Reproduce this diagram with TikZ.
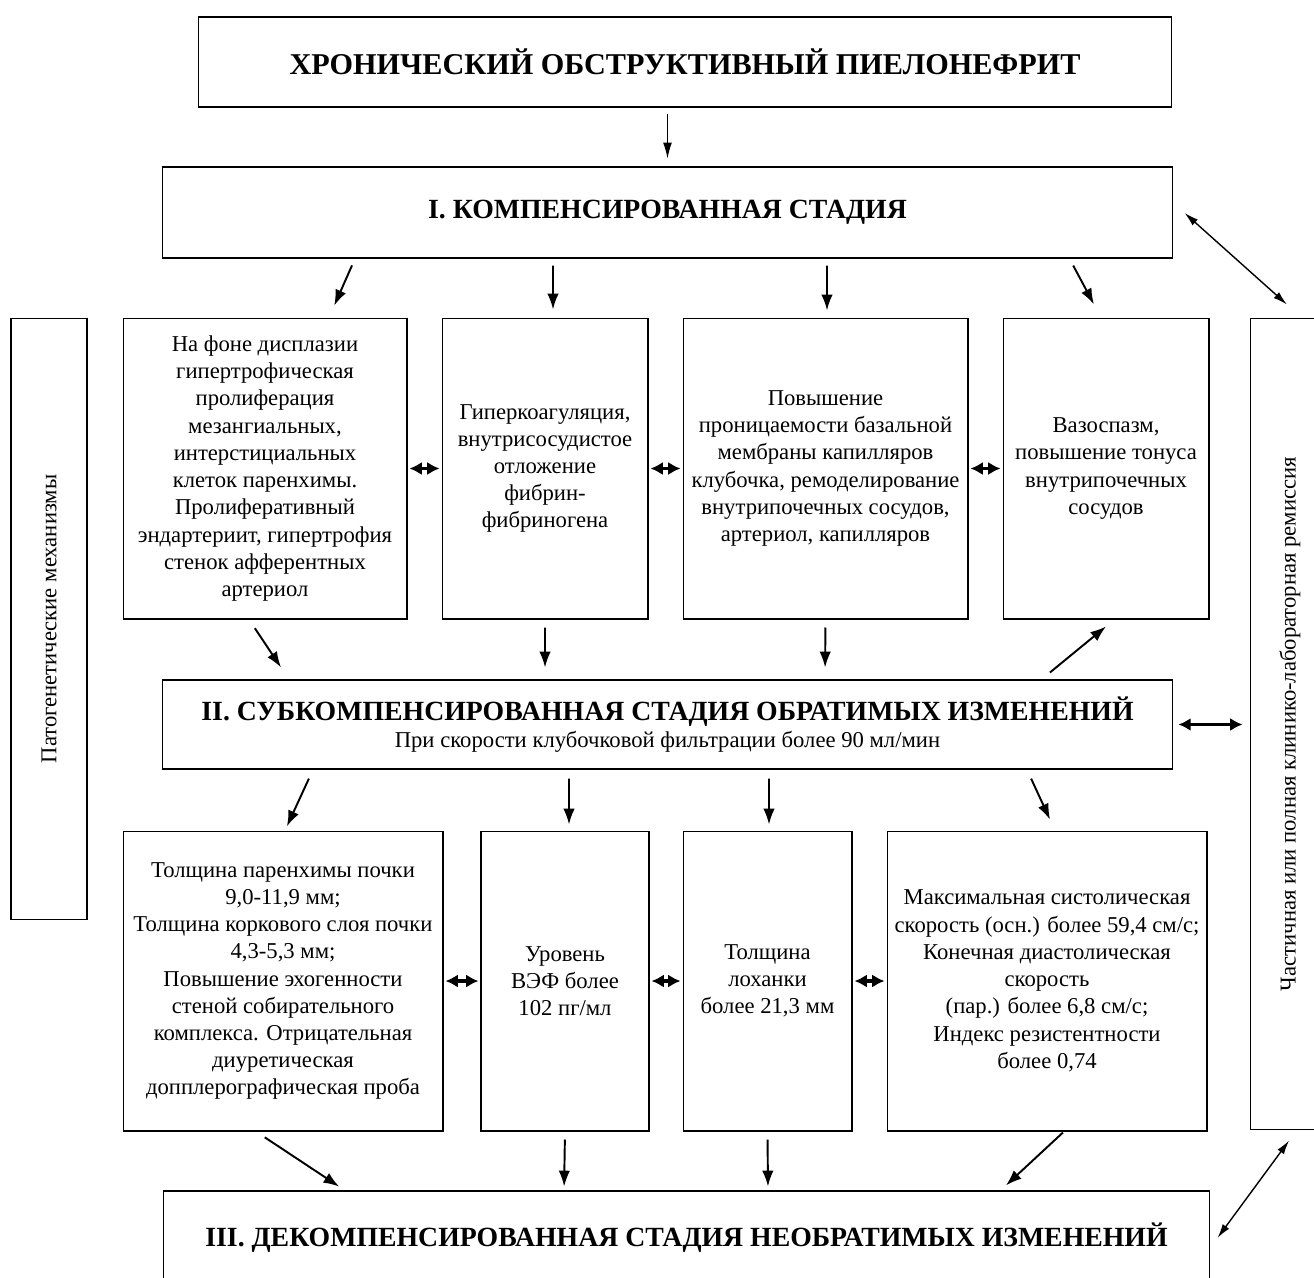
\documentclass[tikz,border=0pt]{standalone}
\usepackage{fontspec}
\setmainfont{Liberation Serif}
\usetikzlibrary{arrows.meta}
\newcommand{\boxfont}{\fontsize{12.9}{15.5}\selectfont}
\newcommand{\headfont}{\fontsize{15.8}{17}\selectfont\bfseries}
\newcommand{\titlefont}{\fontsize{17.2}{19}\selectfont\bfseries}

\begin{document}
\begin{tikzpicture}[x=0.02cm, y=-0.02cm,
    box/.style={draw, line width=0.6pt, align=center, inner sep=0pt, font=\boxfont},
    arr/.style={-{Latex[length=9pt,width=6.5pt]}, line width=1.1pt},
    thinarr/.style={-{Latex[length=9pt,width=5pt]}, line width=0.6pt},
    dbl/.style={{Latex[length=7pt,width=7.5pt]}-{Latex[length=7pt,width=7.5pt]}, line width=1.8pt},
    link/.style={{Latex[length=8pt,width=4.5pt]}-{Latex[length=8pt,width=4.5pt]}, line width=0.8pt}]

      \useasboundingbox (0,0) rectangle (1314,1277) ;

      \node [box, minimum width=19.48cm, minimum height=1.8cm, font=\titlefont] (top) at (685,62)
        {ХРОНИЧЕСКИЙ ОБСТРУКТИВНЫЙ ПИЕЛОНЕФРИТ} ;
      \node [box, minimum width=20.22cm, minimum height=1.82cm, font=\headfont] (st1) at (667.5,212.5)
        {I. КОМПЕНСИРОВАННАЯ СТАДИЯ} ;

      \node [box, minimum width=1.52cm, minimum height=12.04cm] (pat) at (49,619)
        {\rotatebox{90}{Патогенетические механизмы}} ;
      \node [box, minimum width=1.6cm, minimum height=16.24cm] (rem) at (1290,724)
        {\rotatebox{90}{Частичная или полная клинико-лабораторная ремиссия}} ;

      \node [box, minimum width=5.68cm, minimum height=6.02cm] (b1) at (265,468.5)
        {На фоне дисплазии\\ гипертрофическая\\ пролиферация\\ мезангиальных,\\ интерстициальных\\
         клеток паренхимы.\\ Пролиферативный\\ эндартериит, гипертрофия\\ стенок афферентных\\ артериол} ;
      \node [box, minimum width=4.12cm, minimum height=6.02cm] (b2) at (545,468.5)
        {Гиперкоагуляция,\\ внутрисосудистое\\ отложение\\ фибрин-\\ фибриногена} ;
      \node [box, minimum width=5.7cm, minimum height=6.02cm] (b3) at (825.5,468.5)
        {Повышение\\ проницаемости базальной\\ мембраны капилляров\\ клубочка, ремоделирование\\
         внутрипочечных сосудов,\\ артериол, капилляров} ;
      \node [box, minimum width=4.12cm, minimum height=6.02cm] (b4) at (1106,468.5)
        {Вазоспазм,\\ повышение тонуса\\ внутрипочечных\\ сосудов} ;

      \node [box, minimum width=20.22cm, minimum height=1.78cm] (st2) at (667.5,724.5)
        {{\headfont II. СУБКОМПЕНСИРОВАННАЯ СТАДИЯ ОБРАТИМЫХ ИЗМЕНЕНИЙ}\\
         При скорости клубочковой фильтрации более 90 мл/мин} ;

      \node [box, minimum width=6.4cm, minimum height=6cm] (c1) at (283,981)
        {Толщина паренхимы почки\\ 9,0-11,9 мм;\\ Толщина коркового слоя почки\\ 4,3-5,3 мм;\\
         Повышение эхогенности\\ стеной собирательного\\ комплекса. Отрицательная\\ диуретическая\\
         допплерографическая проба} ;
      \node [box, minimum width=3.36cm, minimum height=6cm] (c2) at (565,981)
        {Уровень\\ ВЭФ более\\ 102 пг/мл} ;
      \node [box, minimum width=3.38cm, minimum height=6cm] (c3) at (767.5,981)
        {Толщина\\ лоханки\\ более 21,3 мм} ;
      \node [box, minimum width=6.4cm, minimum height=6cm] (c4) at (1047,981)
        {Максимальная систолическая\\ скорость (осн.) более 59,4 см/с;\\ Конечная диастолическая\\
         скорость\\ (пар.) более 6,8 см/с;\\ Индекс резистентности\\ более 0,74} ;

      \node [box, minimum width=20.94cm, minimum height=1.88cm, font=\headfont] (st3) at (686.5,1238)
        {III. ДЕКОМПЕНСИРОВАННАЯ СТАДИЯ НЕОБРАТИМЫХ ИЗМЕНЕНИЙ} ;

      \draw [thinarr, shorten <=0.12cm, shorten >=0.16cm] (top.south -| st1.north) to (st1.north) ;

      \draw [arr, shorten <=0.15cm, shorten >=0.26cm] ([xshift=-6.25cm]st1.south) to ([xshift=1.28cm]b1.north) ;
      \draw [arr, shorten <=0.14cm, shorten >=0.16cm] ([xshift=-2.29cm]st1.south) to ([xshift=0.16cm]b2.north) ;
      \draw [arr, shorten <=0.14cm, shorten >=0.14cm] ([xshift=3.19cm]st1.south) to ([xshift=0.03cm]b3.north) ;
      \draw [arr, shorten <=0.16cm, shorten >=0.3cm] ([xshift=8.04cm]st1.south) to ([xshift=-0.1cm]b4.north) ;
      \draw [link, shorten <=0.3cm, shorten >=0.39cm] ([yshift=0.19cm]st1.east) to ([xshift=0.23cm]rem.north) ;

      \draw [dbl, shorten <=0.04cm, shorten >=0.04cm] (b1.east) to (b2.west) ;
      \draw [dbl, shorten <=0.04cm, shorten >=0.04cm] (b2.east) to (b3.west) ;
      \draw [dbl, shorten <=0.04cm, shorten >=0.04cm] (b3.east) to (b4.west) ;

      \draw [arr, shorten <=0.21cm, shorten >=0.29cm] ([xshift=-0.32cm]b1.south) to ([xshift=-7.57cm]st2.north) ;
      \draw [arr, shorten <=0.16cm, shorten >=0.24cm] (b2.south) to ([xshift=-2.45cm]st2.north) ;
      \draw [arr, shorten <=0.16cm, shorten >=0.24cm] (b3.south) to ([xshift=3.15cm]st2.north) ;
      \draw [arr, shorten <=0.22cm, shorten >=0.22cm] ([xshift=7.48cm]st2.north) to ([xshift=0.17cm]b4.south) ;
      \draw [dbl, shorten <=0.1cm, shorten >=0.14cm] (st2.east) to (st2.east -| rem.west) ;

      \draw [arr, shorten <=0.2cm, shorten >=0.09cm] ([xshift=-7.09cm]st2.south) to ([xshift=0.04cm]c1.north) ;
      \draw [arr, shorten <=0.18cm, shorten >=0.12cm] ([xshift=-1.97cm]st2.south) to ([xshift=0.08cm]c2.north) ;
      \draw [arr, shorten <=0.18cm, shorten >=0.12cm] ([xshift=2.03cm]st2.south) to ([xshift=0.03cm]c3.north) ;
      \draw [arr, shorten <=0.2cm, shorten >=0.24cm] ([xshift=7.19cm]st2.south) to ([xshift=0.16cm]c4.north) ;

      \draw [dbl, shorten <=0.04cm, shorten >=0.04cm] (c1.east) to (c2.west) ;
      \draw [dbl, shorten <=0.04cm, shorten >=0.04cm] (c2.east) to (c3.west) ;
      \draw [dbl, shorten <=0.04cm, shorten >=0.04cm] (c3.east) to (c4.west) ;

      \draw [arr, shorten <=0.21cm, shorten >=0.14cm] ([xshift=-0.54cm]c1.south) to ([xshift=-6.83cm]st3.north) ;
      \draw [arr, shorten <=0.16cm, shorten >=0.08cm] (c2.south) to ([xshift=-2.45cm]st3.north) ;
      \draw [arr, shorten <=0.16cm, shorten >=0.08cm] (c3.south) to ([xshift=1.63cm]st3.north) ;
      \draw [arr, shorten <=0.03cm, shorten >=0.15cm] ([xshift=0.34cm]c4.south) to ([xshift=6.28cm]st3.north) ;
      \draw [link, shorten <=0.25cm, shorten >=0.24cm] ([xshift=0.13cm]rem.south) to ([yshift=-0.19cm]st3.east) ;
    \end{tikzpicture}
\end{document}
